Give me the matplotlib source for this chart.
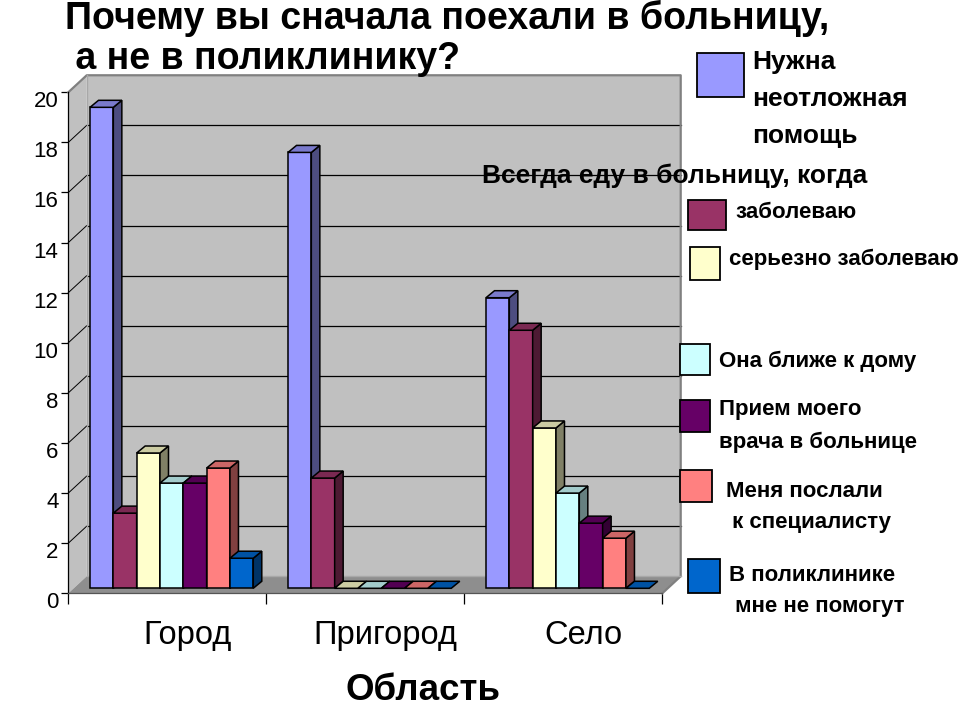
import numpy as np
import matplotlib
matplotlib.use("Agg")
import matplotlib.pyplot as plt
import matplotlib.transforms as mtransforms
from matplotlib.patches import Polygon, Rectangle
from matplotlib.colors import to_rgb

categories = ["Город", "Пригород", "Село"]
series_labels = [
    "Нужна\nнеотложная\nпомощь",
    "заболеваю",
    "серьезно заболеваю",
    "Она ближе к дому",
    "Прием моего\nврача в больнице",
    "Меня послали\n к специалисту",
    "В поликлинике\n мне не помогут",
]
colors = ["#9999FF", "#993366", "#FFFFCC", "#CCFFFF", "#660066", "#FF8080", "#0066CC"]

urgent = [19.2, 17.4, 11.6]
ill = [3.0, 4.4, 10.3]
seriously_ill = [5.4, 0, 6.4]
closer = [4.2, 0, 3.8]
my_doctor = [4.2, 0, 2.6]
sent = [4.8, 0, 2.0]
no_help = [1.2, 0, 0]
series = [urgent, ill, seriously_ill, closer, my_doctor, sent, no_help]

yticks = list(range(0, 21, 2))

title_lines = ["Почему вы сначала поехали в больницу,", " а не в поликлинику?"]
legend_title = "Всегда еду в больницу, когда"
xlabel = "Область"

plain = ["Liberation Sans", "DejaVu Sans"]

W, H = 960, 720
fig = plt.figure(figsize=(9.6, 7.2), dpi=100)
fig.patch.set_facecolor("white")

# main axes: x in category units, y in value units (front plane)
ax = fig.add_axes([68.3 / W, 1 - 593.3 / H, 594 / W, 501 / H])
ymax = 20
ncat = len(categories)
ax.set_xlim(0, ncat)
ax.set_ylim(0, ymax)
ax.patch.set_visible(False)

wall_dx, wall_dy = 0.093, 0.68   # depth of the 3d box
bar_dx, bar_dy = 0.043, 0.28     # depth of a bar
bar_w = 0.1178
bar_start = 0.1096
bar_base = 0.2

wall_c = "#c0c0c0"
# side wall
ax.add_patch(Polygon([(0, 0), (wall_dx, wall_dy), (wall_dx, ymax + wall_dy), (0, ymax)],
                     closed=True, fc=wall_c, ec="none", clip_on=False, zorder=1))
# back wall
ax.add_patch(Polygon([(wall_dx, wall_dy), (ncat + wall_dx, wall_dy),
                      (ncat + wall_dx, ymax + wall_dy), (wall_dx, ymax + wall_dy)],
                     closed=True, fc=wall_c, ec="none", clip_on=False, zorder=1))
# floor
ax.add_patch(Polygon([(0, 0), (ncat, 0), (ncat + wall_dx, wall_dy), (wall_dx, wall_dy)],
                     closed=True, fc="#8e8e8e", ec="none", clip_on=False, zorder=1))

# gridlines
for v in yticks[1:-1]:
    ax.plot([wall_dx, ncat + wall_dx], [v + wall_dy, v + wall_dy], color="black", lw=0.9,
            clip_on=False, zorder=2)
for v in yticks[1:-1]:
    ax.plot([0, wall_dx], [v, v + wall_dy], color="black", lw=0.7, clip_on=False, zorder=2)

# box edges
ax.plot([0, wall_dx, ncat + wall_dx, ncat + wall_dx, ncat],
        [ymax, ymax + wall_dy, ymax + wall_dy, wall_dy, 0],
        color="#808080", lw=1.6, clip_on=False, zorder=2)
ax.plot([wall_dx, wall_dx, ncat + wall_dx], [ymax + wall_dy, wall_dy, wall_dy],
        color="#a8a8a8", lw=1.0, clip_on=False, zorder=2)


def shade(c, f):
    r, g, b = to_rgb(c)
    return (r * f, g * f, b * f)


# bars, left to right
for ci in range(ncat):
    for si, vals in enumerate(series):
        v = vals[ci]
        x0 = ci + bar_start + si * bar_w
        x1 = x0 + bar_w
        y0 = bar_base
        y1 = bar_base + v
        col = colors[si]
        kw = dict(closed=True, ec="black", lw=1.1, clip_on=False, zorder=3, joinstyle="miter")
        if v > 0:
            ax.add_patch(Polygon([(x0, y0), (x1, y0), (x1, y1), (x0, y1)], fc=col, **kw))
            ax.add_patch(Polygon([(x1, y0), (x1 + bar_dx, y0 + bar_dy), (x1 + bar_dx, y1 + bar_dy), (x1, y1)],
                                 fc=shade(col, 0.5), **kw))
        ax.add_patch(Polygon([(x0, y1), (x1, y1), (x1 + bar_dx, y1 + bar_dy), (x0 + bar_dx, y1 + bar_dy)],
                             fc=shade(col, 0.8), **kw))

# axes lines and ticks
for s in ["top", "right"]:
    ax.spines[s].set_visible(False)
ax.spines["left"].set_color("black")
ax.spines["left"].set_linewidth(0.9)
ax.spines["bottom"].set_color("#555555")
ax.spines["bottom"].set_linewidth(0.9)
ax.spines["left"].set_zorder(4)
ax.spines["bottom"].set_zorder(4)

ax.set_yticks(yticks)
ax.set_yticklabels([str(t) for t in yticks], fontsize=16, family=plain)
ax.tick_params(axis="y", direction="out", length=5, width=0.9, pad=2)
offset = mtransforms.ScaledTranslation(0, -0.07, fig.dpi_scale_trans)
for lab in ax.get_yticklabels():
    lab.set_transform(lab.get_transform() + offset)

ax.set_xticks(range(ncat + 1))
ax.set_xticklabels([])
ax.tick_params(axis="x", direction="out", length=8, width=0.9)

for ci, name in enumerate(categories):
    ax.text(ci + 0.6, -1.68, name, ha="center", va="center", fontsize=23.5,
            family=plain, clip_on=False)

ax.text(ncat / 2 + 0.29, -3.9, xlabel, ha="center", va="center", fontsize=26.5,
        fontweight="bold", family=plain, clip_on=False)

# overlay in pixel coordinates for title and legend
ov = fig.add_axes([0, 0, 1, 1])
ov.set_xlim(0, W)
ov.set_ylim(H, 0)
ov.axis("off")
ov.patch.set_visible(False)

for line, ty in zip(title_lines, [18, 59]):
    ov.text(65, ty, line, ha="left", va="center", fontsize=27, fontweight="bold",
            family=plain)

# legend
sq = [(697, 53, 47, 44), (688, 200, 38, 30), (690, 247, 30, 33), (680, 344, 30, 31),
      (680, 400, 30, 32), (680, 470, 32, 32), (688, 559, 32, 34)]
txt = [(752, 99, 19, 1.67), (735, 212, 16, 1.2), (729, 259, 16, 1.2), (719, 361, 16, 1.2),
       (719, 426, 16, 1.68), (726, 507, 16, 1.68), (729, 591, 16, 1.57)]
for (x, y, w, h), (tx, ty, fs, ls), col, lab in zip(sq, txt, colors, series_labels):
    ov.add_patch(Rectangle((x, y), w, h, fc=col, ec="black", lw=1.3))
    ov.text(tx, ty, lab, ha="left", va="center", fontsize=fs, fontweight="bold",
            family=plain, linespacing=ls)

ov.text(482, 176, legend_title, ha="left", va="center", fontsize=19, fontweight="bold",
        family=plain)

fig.savefig("out.png", dpi=100, facecolor="white")
